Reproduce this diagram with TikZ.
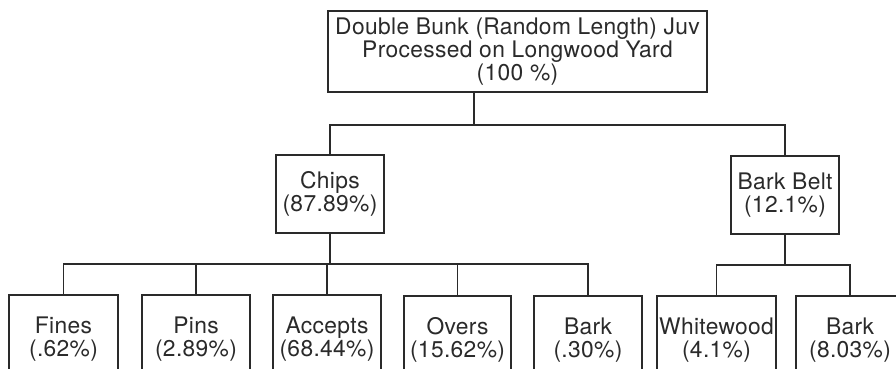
\documentclass[tikz,border=0pt]{standalone}
\usepackage{fontspec}
\setmainfont{TeX Gyre Heros}[LetterSpace=1.5]
\definecolor{ink}{HTML}{2A2A2A}
\begin{document}
\begin{tikzpicture}[x=1pt,y=-1pt,
  box/.style={draw=ink, line width=1.3pt, inner sep=0pt, align=center, text=ink,
              font=\fontsize{22.8}{23}\selectfont},
  leaf/.style={box, minimum width=108pt, minimum height=88pt},
  mid/.style={box, minimum width=108pt, minimum height=78pt},
  link/.style={draw=ink, line width=1.3pt}]
\useasboundingbox (0,0) rectangle (896,368);
\clip (0,0) rectangle (896,368);
\fill[white] (0,0) rectangle (896,368);
% level 0
\node[box, minimum width=379pt, minimum height=81pt] (top) at (517.5,51.5)
  {Double Bunk (Random Length) Juv\\Processed on Longwood Yard\\(100 \%)};
% level 1
\node[mid] (chips) at (330,194) {Chips\\(87.89\%)};
\node[mid] (belt) at (785,195) {Bark Belt\\(12.1\%)};
% level 2
\node[leaf, minimum width=109pt] (fines) at (63.5,339) {Fines\\(.62\%)};
\node[leaf] (pins) at (196,339) {Pins\\(2.89\%)};
\node[leaf] (accepts) at (327,339) {Accepts\\(68.44\%)};
\node[leaf, minimum width=107pt] (overs) at (457.5,340) {Overs\\(15.62\%)};
\node[leaf] (bark) at (588,340) {Bark\\(.30\%)};
\node[leaf, minimum width=119pt] (white) at (716.5,340) {Whitewood\\(4.1\%)};
\node[leaf] (bark2) at (850,340) {Bark\\(8.03\%)};
% connectors
\coordinate (tj) at ([xshift=-43.5pt]top.south);
\coordinate (h1) at (0,125);
\coordinate (h2) at (0,264);
\coordinate (h3) at (0,265);
\draw[link] (tj) -- (tj |- h1);
\draw[link] (chips.north) -- (chips.north |- h1) -- (belt.north |- h1) -- (belt.north);
\draw[link] (chips.south) -- (chips.south |- h2);
\draw[link] (fines.north) -- (fines.north |- h2) -- (bark.north |- h2) -- (bark.north);
\foreach \n in {pins, accepts, overs} \draw[link] (\n.north) -- (\n.north |- h2);
\draw[link] (belt.south) -- (belt.south |- h3);
\draw[link] (white.north) -- (white.north |- h3) -- (bark2.north |- h3) -- (bark2.north);
\end{tikzpicture}
\end{document}
